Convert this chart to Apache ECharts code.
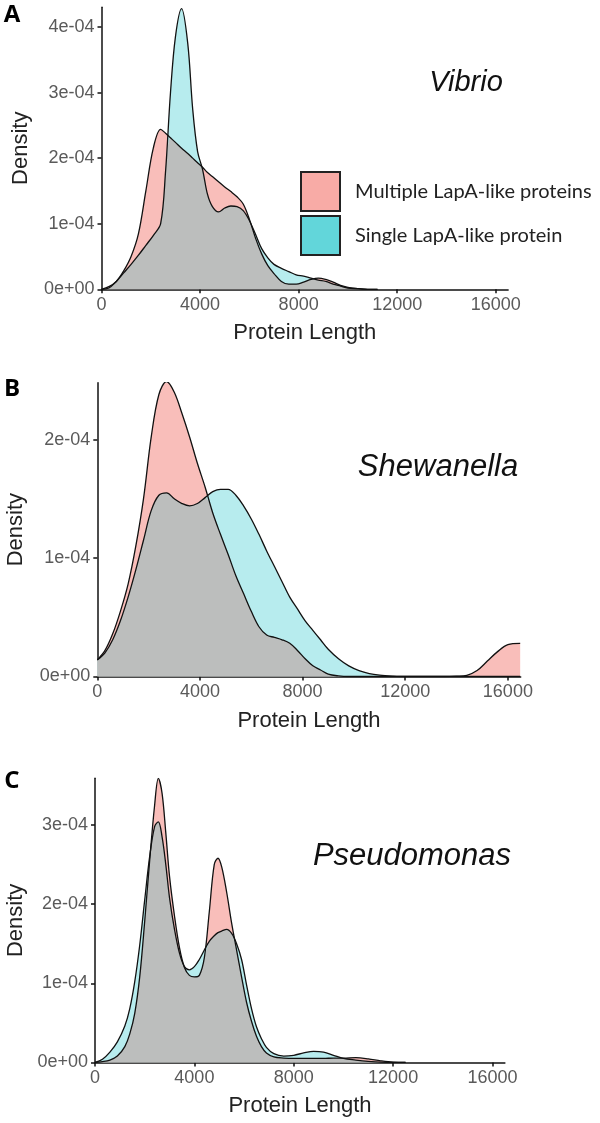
<!DOCTYPE html>
<html>
<head>
<meta charset="utf-8">
<script src="https://cdn.jsdelivr.net/npm/echarts@6/dist/echarts.min.js"></script>
<style>
html,body{margin:0;padding:0;background:#fff;}
#chart{width:600px;height:1123px;}
</style>
</head>
<body>
<div id="chart"></div>
<script>
// ---- Data (density in units of 1e-04) ----
const seriesNames = ['Multiple LapA-like proteins', 'Single LapA-like protein'];
const xTicks = [0, 4000, 8000, 12000, 16000];

const panelLetters = ['A', 'B', 'C'];
const panelTitles = ['Vibrio', 'Shewanella', 'Pseudomonas'];

const yTickLabelsA = ['0e+00', '1e-04', '2e-04', '3e-04', '4e-04'];
const yTickLabelsB = ['0e+00', '1e-04', '2e-04'];
const yTickLabelsC = ['0e+00', '1e-04', '2e-04', '3e-04'];

const vibrioX = [0,300,600,900,1200,1500,1800,2100,2400,2600,2800,3000,3250,3500,3700,3900,4100,4300,4500,4750,5000,5250,5500,5750,6000,6250,6500,6750,7000,7300,7600,7900,8200,8500,8800,9100,9400,9700,10000,10400,10800,11200];
const vibrioMultiple = [0,0.04,0.12,0.28,0.5,0.85,1.5,2.15,2.44,2.38,2.31,2.24,2.15,2.07,2.0,1.93,1.86,1.78,1.72,1.64,1.56,1.49,1.41,1.30,1.07,0.78,0.54,0.36,0.24,0.12,0.08,0.08,0.11,0.15,0.17,0.15,0.11,0.06,0.03,0.01,0,0];
const vibrioSingle = [0,0.02,0.12,0.25,0.38,0.52,0.67,0.82,1.0,1.8,3.0,3.85,4.28,3.75,2.75,2.1,1.83,1.45,1.26,1.18,1.24,1.27,1.26,1.20,1.05,0.84,0.62,0.48,0.38,0.32,0.27,0.22,0.20,0.17,0.14,0.12,0.08,0.05,0.02,0.01,0,0];

const shewX = [0,300,600,900,1200,1500,1800,2100,2400,2700,3000,3300,3600,3900,4200,4500,4800,5100,5400,5700,6000,6300,6600,6900,7200,7500,7800,8100,8400,8700,9000,9400,9800,10200,10600,11000,11500,12000,12500,13000,13500,14000,14400,14800,15200,15600,16000,16480];
const shewMultiple = [0.14,0.22,0.36,0.55,0.78,1.1,1.5,2.02,2.38,2.49,2.40,2.22,2.02,1.8,1.6,1.38,1.2,1.03,0.85,0.7,0.55,0.42,0.35,0.33,0.31,0.28,0.22,0.15,0.09,0.055,0.02,0.005,0,0,0,0,0,0,0,0,0,0.003,0.01,0.05,0.13,0.21,0.27,0.28];
const shewSingle = [0.14,0.2,0.31,0.47,0.67,0.9,1.15,1.4,1.53,1.55,1.5,1.46,1.44,1.46,1.51,1.56,1.58,1.58,1.53,1.44,1.33,1.2,1.06,0.93,0.8,0.67,0.57,0.47,0.39,0.31,0.23,0.15,0.09,0.05,0.025,0.012,0.004,0,0,0,0,0,0,0,0,0,0,0];

const pseuX = [0,300,600,900,1200,1400,1600,1800,2000,2200,2400,2550,2700,2850,3000,3200,3400,3600,3800,4000,4200,4400,4600,4800,4950,5100,5300,5500,5700,5900,6100,6300,6500,6700,6900,7200,7600,8000,8400,8800,9200,9600,10000,10500,11000,11500,12000,12500];
const pseuMultiple = [0,0.01,0.03,0.08,0.2,0.36,0.62,1.08,1.78,2.55,3.25,3.59,3.4,2.9,2.35,1.85,1.45,1.2,1.1,1.08,1.1,1.32,1.9,2.5,2.58,2.47,2.15,1.76,1.42,1.08,0.76,0.52,0.33,0.2,0.12,0.07,0.055,0.05,0.05,0.05,0.05,0.055,0.055,0.06,0.045,0.02,0.003,0];
const pseuSingle = [0,0.04,0.13,0.26,0.46,0.68,1.02,1.48,2.05,2.6,2.98,3.04,2.85,2.5,2.08,1.68,1.38,1.21,1.17,1.21,1.3,1.42,1.53,1.6,1.64,1.66,1.68,1.63,1.5,1.3,0.98,0.68,0.45,0.3,0.19,0.11,0.08,0.09,0.12,0.14,0.13,0.09,0.05,0.03,0.014,0.003,0,0];

// ---- Styling / layout ----
const FILL_PINK = '#F9BEBA';
const FILL_CYAN = '#B7ECEE';
const FILL_GRAY = '#BCBEBD';
const KEY_PINK = '#F8ABA6';
const KEY_CYAN = '#62D6DA';
const SANS = 'Arial';

const panels = [
  { x: vibrioX, m: vibrioMultiple, s: vibrioSingle, yLabels: yTickLabelsA, ymax: 4.3,
    grid: { left: 101.5, top: 7.3, width: 406.6, height: 282 }, title: [466, 83], titleSize: 29, letter: [12, 15], yGap: 70 },
  { x: shewX, m: shewMultiple, s: shewSingle, yLabels: yTickLabelsB, ymax: 2.48,
    grid: { left: 97.3, top: 382.7, width: 423.4, height: 293.8 }, title: [438, 467], titleSize: 31, letter: [12, 389], yGap: 70 },
  { x: pseuX, m: pseuMultiple, s: pseuSingle, yLabels: yTickLabelsC, ymax: 3.59,
    grid: { left: 95, top: 778.3, width: 409.9, height: 284.1 }, title: [412, 856], titleSize: 31, letter: [12, 781], yGap: 67 }
];

const grids = [], xAxes = [], yAxes = [], series = [], graphics = [];

panels.forEach((p, i) => {
  grids.push(Object.assign({ outerBoundsMode: 'none', containLabel: false }, p.grid));
  xAxes.push({
    type: 'value', gridIndex: i, min: 0, max: 16500, interval: 4000,
    axisLine: { show: true, lineStyle: { color: '#111', width: 1.5 } },
    axisTick: { show: true, length: 4, customValues: xTicks, lineStyle: { color: '#111', width: 1.5 } },
    axisLabel: { customValues: xTicks, color: '#5a5a5a', fontSize: 18, fontFamily: SANS, margin: 7,
      formatter: v => String(v) },
    splitLine: { show: false },
    name: 'Protein Length', nameLocation: 'middle', nameGap: 33,
    nameTextStyle: { fontSize: 22, color: '#222', fontFamily: SANS }
  });
  const yVals = p.yLabels.map((_, k) => k);
  yAxes.push({
    type: 'value', gridIndex: i, min: 0, max: p.ymax, interval: 1,
    axisLine: { show: true, lineStyle: { color: '#111', width: 1.5 } },
    axisTick: { show: true, length: 4, customValues: yVals, lineStyle: { color: '#111', width: 1.5 } },
    axisLabel: { customValues: yVals, color: '#5a5a5a', fontSize: 18, fontFamily: SANS, margin: 7,
      formatter: v => p.yLabels[Math.round(v)] },
    splitLine: { show: false },
    name: 'Density', nameLocation: 'middle', nameGap: p.yGap,
    nameTextStyle: { fontSize: 22, color: '#222', fontFamily: SANS }
  });

  const ptsM = p.x.map((x, k) => [x, p.m[k]]);
  const ptsS = p.x.map((x, k) => [x, p.s[k]]);
  const ptsMin = p.x.map((x, k) => [x, Math.min(p.m[k], p.s[k])]);
  const base = { type: 'line', xAxisIndex: i, yAxisIndex: i, smooth: 0.35, showSymbol: false, symbol: 'none', silent: true };
  series.push(Object.assign({}, base, { name: seriesNames[0], data: ptsM, z: 1,
    itemStyle: { color: KEY_PINK }, lineStyle: { width: 0 }, areaStyle: { color: FILL_PINK, opacity: 1 } }));
  series.push(Object.assign({}, base, { name: seriesNames[1], data: ptsS, z: 2,
    itemStyle: { color: KEY_CYAN }, lineStyle: { width: 0 }, areaStyle: { color: FILL_CYAN, opacity: 1 } }));
  series.push(Object.assign({}, base, { name: 'overlap' + i, data: ptsMin, z: 3,
    lineStyle: { width: 0 }, areaStyle: { color: FILL_GRAY, opacity: 1 } }));
  series.push(Object.assign({}, base, { name: 'outlineM' + i, data: ptsM, z: 4,
    lineStyle: { color: '#111', width: 1.3 } }));
  series.push(Object.assign({}, base, { name: 'outlineS' + i, data: ptsS, z: 4,
    lineStyle: { color: '#111', width: 1.3 } }));

  graphics.push({ type: 'text', x: p.title[0], y: p.title[1],
    style: { text: panelTitles[i], fontSize: p.titleSize, fontStyle: 'italic', fontFamily: SANS, fill: '#111', align: 'center', verticalAlign: 'middle' } });
  graphics.push({ type: 'text', x: p.letter[0], y: p.letter[1],
    style: { text: panelLetters[i], fontSize: 24, fontWeight: 'bold', fontFamily: 'Open Sans', fill: '#000', align: 'center', verticalAlign: 'middle' } });
});

const chart = echarts.init(document.getElementById('chart'), null, { renderer: 'canvas' });
chart.setOption({
  animation: false,
  backgroundColor: '#fff',
  grid: grids,
  xAxis: xAxes,
  yAxis: yAxes,
  legend: {
    orient: 'vertical', left: 295, top: 166, itemWidth: 39, itemHeight: 39, itemGap: 3,
    icon: 'rect', selectedMode: false,
    data: [
      { name: seriesNames[0], itemStyle: { color: KEY_PINK, borderColor: '#222', borderWidth: 2 } },
      { name: seriesNames[1], itemStyle: { color: KEY_CYAN, borderColor: '#222', borderWidth: 2 } }
    ],
    textStyle: { fontSize: 20, fontFamily: 'Lato', color: '#222', padding: [0, 0, 0, 10] }
  },
  graphic: graphics,
  series: series
});
</script>
</body>
</html>
